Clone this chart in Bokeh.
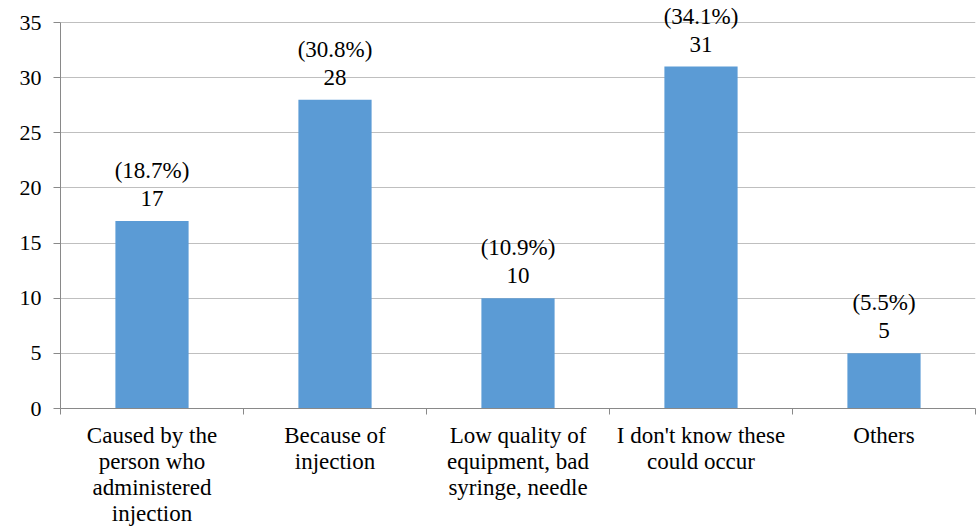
from bokeh.plotting import figure
from bokeh.models import Range1d, FixedTicker, ColumnDataSource, LabelSet
from bokeh.embed import file_html
from bokeh.resources import INLINE

categories = [
    "Caused by the\nperson who\nadministered\ninjection",
    "Because of\ninjection",
    "Low quality of\nequipment, bad\nsyringe, needle",
    "I don't know these\ncould occur",
    "Others",
]
counts = [17, 28, 10, 31, 5]
percents = ["(18.7%)", "(30.8%)", "(10.9%)", "(34.1%)", "(5.5%)"]
y_ticks = [0, 5, 10, 15, 20, 25, 30, 35]

FONT = "Liberation Serif"
BAR = "#5B9BD5"
GRID = "#BFBFBF"
AXIS = "#898989"

centers = [i + 0.5 for i in range(len(categories))]
bounds = list(range(len(categories) + 1))

# frame top sits a little above the 35 line so the top data label is not clipped
TOP_PAD = 4
FRAME_BOTTOM = 408
Y35 = 22
y_end = 35 * (FRAME_BOTTOM - TOP_PAD) / (FRAME_BOTTOM - Y35)

p = figure(width=977, height=529, output_backend="svg", toolbar_location=None,
           x_range=Range1d(0, len(categories)), y_range=Range1d(0, y_end),
           min_border_left=60, min_border_right=2, min_border_top=TOP_PAD,
           min_border_bottom=121)
p.outline_line_color = None
p.background_fill_color = "white"
p.border_fill_color = "white"

src = ColumnDataSource(dict(x=centers, top=counts,
                            val=[str(c) for c in counts], pct=percents))
p.vbar(x="x", top="top", width=0.4, bottom=0, source=src,
       fill_color=BAR, line_color=None)

# x axis: labels at category centres, ticks at category boundaries
xa = p.xaxis[0]
xa.ticker = FixedTicker(ticks=centers, minor_ticks=bounds)
xa.major_label_overrides = {c: lab for c, lab in zip(centers, categories)}
xa.major_tick_line_color = None
xa.major_tick_out = 0
xa.major_tick_in = 0
xa.minor_tick_line_color = AXIS
xa.minor_tick_out = 6
xa.minor_tick_in = 0
xa.axis_line_color = AXIS
xa.major_label_text_font = FONT
xa.major_label_text_font_size = "23px"
xa.major_label_text_color = "black"
xa.major_label_text_line_height = 1.05
xa.major_label_standoff = 8

# y axis
ya = p.yaxis[0]
ya.ticker = FixedTicker(ticks=y_ticks)
ya.bounds = (0, 35)
ya.major_tick_out = 7
ya.major_tick_in = 0
ya.major_tick_line_color = AXIS
ya.minor_tick_line_color = None
ya.axis_line_color = AXIS
ya.major_label_text_font = FONT
ya.major_label_text_font_size = "22px"
ya.major_label_text_color = "black"
ya.major_label_standoff = 12

p.xgrid.grid_line_color = None
p.ygrid.grid_line_color = GRID
p.ygrid.ticker = FixedTicker(ticks=y_ticks)

val_labels = LabelSet(x="x", y="top", text="val", source=src,
                      text_align="center", text_baseline="alphabetic",
                      y_offset=15, text_font=FONT, text_font_size="23px",
                      text_color="black")
pct_labels = LabelSet(x="x", y="top", text="pct", source=src,
                      text_align="center", text_baseline="alphabetic",
                      y_offset=43, text_font=FONT, text_font_size="23px",
                      text_color="black")
p.add_layout(val_labels)
p.add_layout(pct_labels)

open("out.html", "w").write(file_html(p, INLINE))
